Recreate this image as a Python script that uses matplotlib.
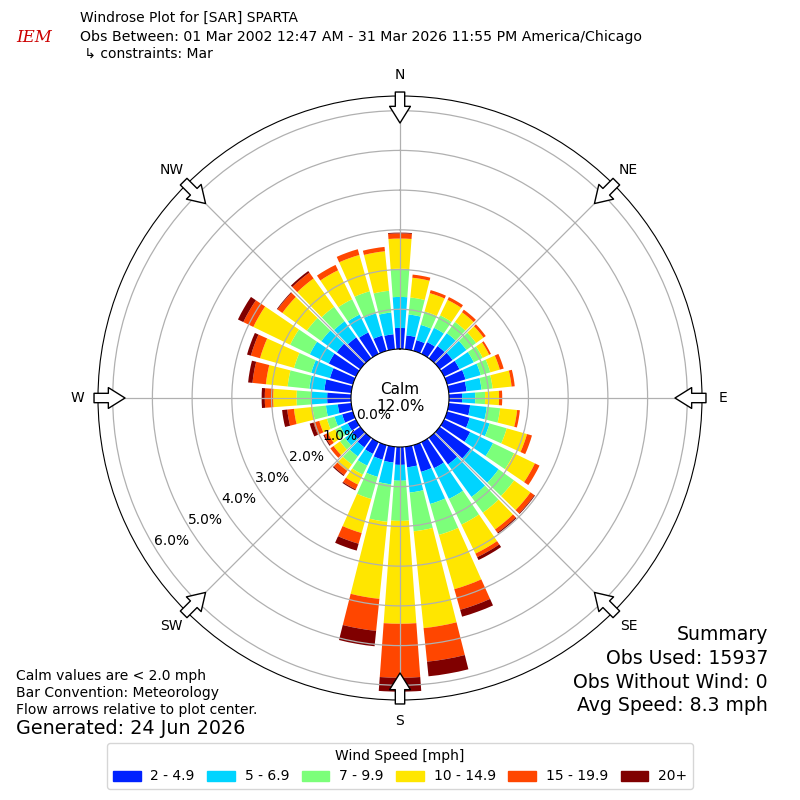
#%%
import numpy as np
import matplotlib
matplotlib.use("Agg")
import matplotlib.pyplot as plt
from matplotlib.patches import Patch

#%% data, percent of all obs for each 10 degree direction bin
directions = list(range(0, 360, 10))
speed_bins = ["2 - 4.9", "5 - 6.9", "7 - 9.9", "10 - 14.9", "15 - 19.9", "20+"]
colors = ["#0022ff", "#00d4ff", "#7cff7a", "#ffe600", "#ff4600", "#800000"]

pct_2_5 = [0.53, 0.35, 0.28, 0.33, 0.38, 0.40, 0.43, 0.48, 0.45, 0.33, 0.54, 0.59,
           0.73, 0.95, 0.83, 0.73, 0.70, 0.52, 0.45, 0.40, 0.38, 0.33, 0.30, 0.25,
           0.23, 0.28, 0.34, 0.60, 0.68, 0.60, 0.76, 0.73, 0.65, 0.60, 0.40, 0.38]
pct_5_7 = [0.78, 0.53, 0.40, 0.40, 0.40, 0.43, 0.40, 0.40, 0.38, 0.33, 0.42, 0.52,
           0.64, 0.88, 1.01, 0.86, 0.84, 0.64, 0.40, 0.55, 0.45, 0.33, 0.28, 0.23,
           0.20, 0.20, 0.30, 0.39, 0.38, 0.49, 0.53, 0.48, 0.50, 0.50, 0.58, 0.55]
pct_7_10 = [0.71, 0.43, 0.35, 0.35, 0.35, 0.30, 0.25, 0.25, 0.28, 0.25, 0.34, 0.45,
            0.59, 0.48, 0.49, 0.72, 0.81, 0.98, 1.01, 0.95, 0.58, 0.25, 0.25, 0.15,
            0.15, 0.20, 0.34, 0.38, 0.55, 0.45, 0.55, 0.45, 0.45, 0.43, 0.58, 0.55]
pct_10_15 = [0.76, 0.50, 0.48, 0.43, 0.30, 0.23, 0.18, 0.25, 0.48, 0.35, 0.43, 0.53,
             0.58, 0.51, 0.52, 0.81, 1.42, 2.45, 2.59, 1.95, 0.89, 0.28, 0.20, 0.20,
             0.20, 0.20, 0.47, 0.59, 0.55, 0.89, 1.03, 0.76, 0.88, 0.81, 0.95, 1.00]
pct_15_20 = [0.13, 0.08, 0.08, 0.08, 0.08, 0.07, 0.05, 0.10, 0.08, 0.08, 0.07, 0.13,
             0.13, 0.12, 0.10, 0.10, 0.54, 0.85, 1.36, 0.81, 0.28, 0.13, 0.13, 0.10,
             0.10, 0.15, 0.17, 0.21, 0.34, 0.24, 0.28, 0.15, 0.18, 0.15, 0.15, 0.11]
pct_20up = [0.02, 0.0, 0.0, 0.0, 0.0, 0.0, 0.0, 0.0, 0.0, 0.0, 0.0, 0.0,
            0.0, 0.02, 0.03, 0.08, 0.18, 0.37, 0.35, 0.39, 0.18, 0.03, 0.03, 0.0,
            0.03, 0.10, 0.13, 0.08, 0.11, 0.10, 0.15, 0.02, 0.05, 0.0, 0.0, 0.0]

calm_pct = 12.0
rticks = [0, 1, 2, 3, 4, 5, 6]
compass = ["N", "NE", "E", "SE", "S", "SW", "W", "NW"]
summary = ["Summary", "Obs Used: 15937", "Obs Without Wind: 0", "Avg Speed: 8.3 mph"]
footer = ["Calm values are < 2.0 mph", "Bar Convention: Meteorology",
          "Flow arrows relative to plot center."]

#%% figure
fig = plt.figure(figsize=(8, 8), dpi=100)
ax = fig.add_axes([98 / 800, 100 / 800, 604 / 800, 604 / 800], projection="polar")
ax.set_theta_zero_location("N")
ax.set_theta_direction(-1)

rmax = 6.37
ax.set_ylim(0, rmax)
ax.set_rorigin(-1.234)  # leaves the hole for the calm circle

theta = np.deg2rad(directions)
bottom = np.zeros(len(directions))
for vals, c in zip([pct_2_5, pct_5_7, pct_7_10, pct_10_15, pct_15_20, pct_20up], colors):
    ax.bar(theta, vals, width=np.deg2rad(8.3), bottom=bottom, color=c, edgecolor="none")
    bottom += np.array(vals)

ax.set_yticks(rticks[1:])
ax.set_yticklabels([])
ax.set_xticks(np.deg2rad(np.arange(0, 360, 45)))
ax.set_xticklabels([])
ax.grid(True, color="#b0b0b0", lw=0.9)

# radial labels, sitting along ~238 deg
for k in rticks:
    ax.text(np.deg2rad(238), k - 0.45, "%.1f%%" % k, ha="center", va="center", fontsize=10)

# compass labels + inward flow arrows
for i, lab in enumerate(compass):
    t = np.deg2rad(i * 45)
    ax.text(t, 6.9, lab, ha="center", va="center", fontsize=10)
    ax.annotate("", xy=(t, 5.69), xytext=(t, 6.47), annotation_clip=False,
                arrowprops=dict(arrowstyle="simple,head_length=0.8,head_width=1.0,tail_width=0.45",
                                fc="white", ec="black", lw=1, shrinkA=0, shrinkB=0,
                                mutation_scale=15))

ax.text(0.5, 0.5, "Calm\n%.1f%%" % calm_pct, transform=ax.transAxes,
        ha="center", va="center", fontsize=11)

#%% texts around the plot
fig.text(16 / 800, 1 - 38 / 800, "IEM", color="#cc0000", fontsize=12,
         family="serif", style="italic", va="center")
fig.text(80 / 800, 1 - 18 / 800, "Windrose Plot for [SAR] SPARTA", fontsize=10, va="center")
fig.text(80 / 800, 1 - 37 / 800,
         "Obs Between: 01 Mar 2002 12:47 AM - 31 Mar 2026 11:55 PM America/Chicago",
         fontsize=10.15, va="center")
fig.text(80 / 800, 1 - 54 / 800, " \u21b3 constraints: Mar", fontsize=10, va="center")

for i, line in enumerate(footer):
    fig.text(16 / 800, 1 - (676 + 17 * i) / 800, line, fontsize=10, va="center")
fig.text(16 / 800, 1 - 729 / 800, "Generated: 24 Jun 2026", fontsize=13.8, va="center")

for i, line in enumerate(summary):
    fig.text(768 / 800, 1 - (635 + 23.5 * i) / 800, line, fontsize=13.6, ha="right", va="center")

handles = [Patch(color=c) for c in colors]
fig.legend(handles, speed_bins, ncol=6, loc="lower center", bbox_to_anchor=(0.5, 4 / 800),
           title="Wind Speed [mph]", fontsize=10, title_fontsize=10,
           handlelength=2.0, handletextpad=0.7, columnspacing=0.9)

fig.savefig("out.png", dpi=100)
